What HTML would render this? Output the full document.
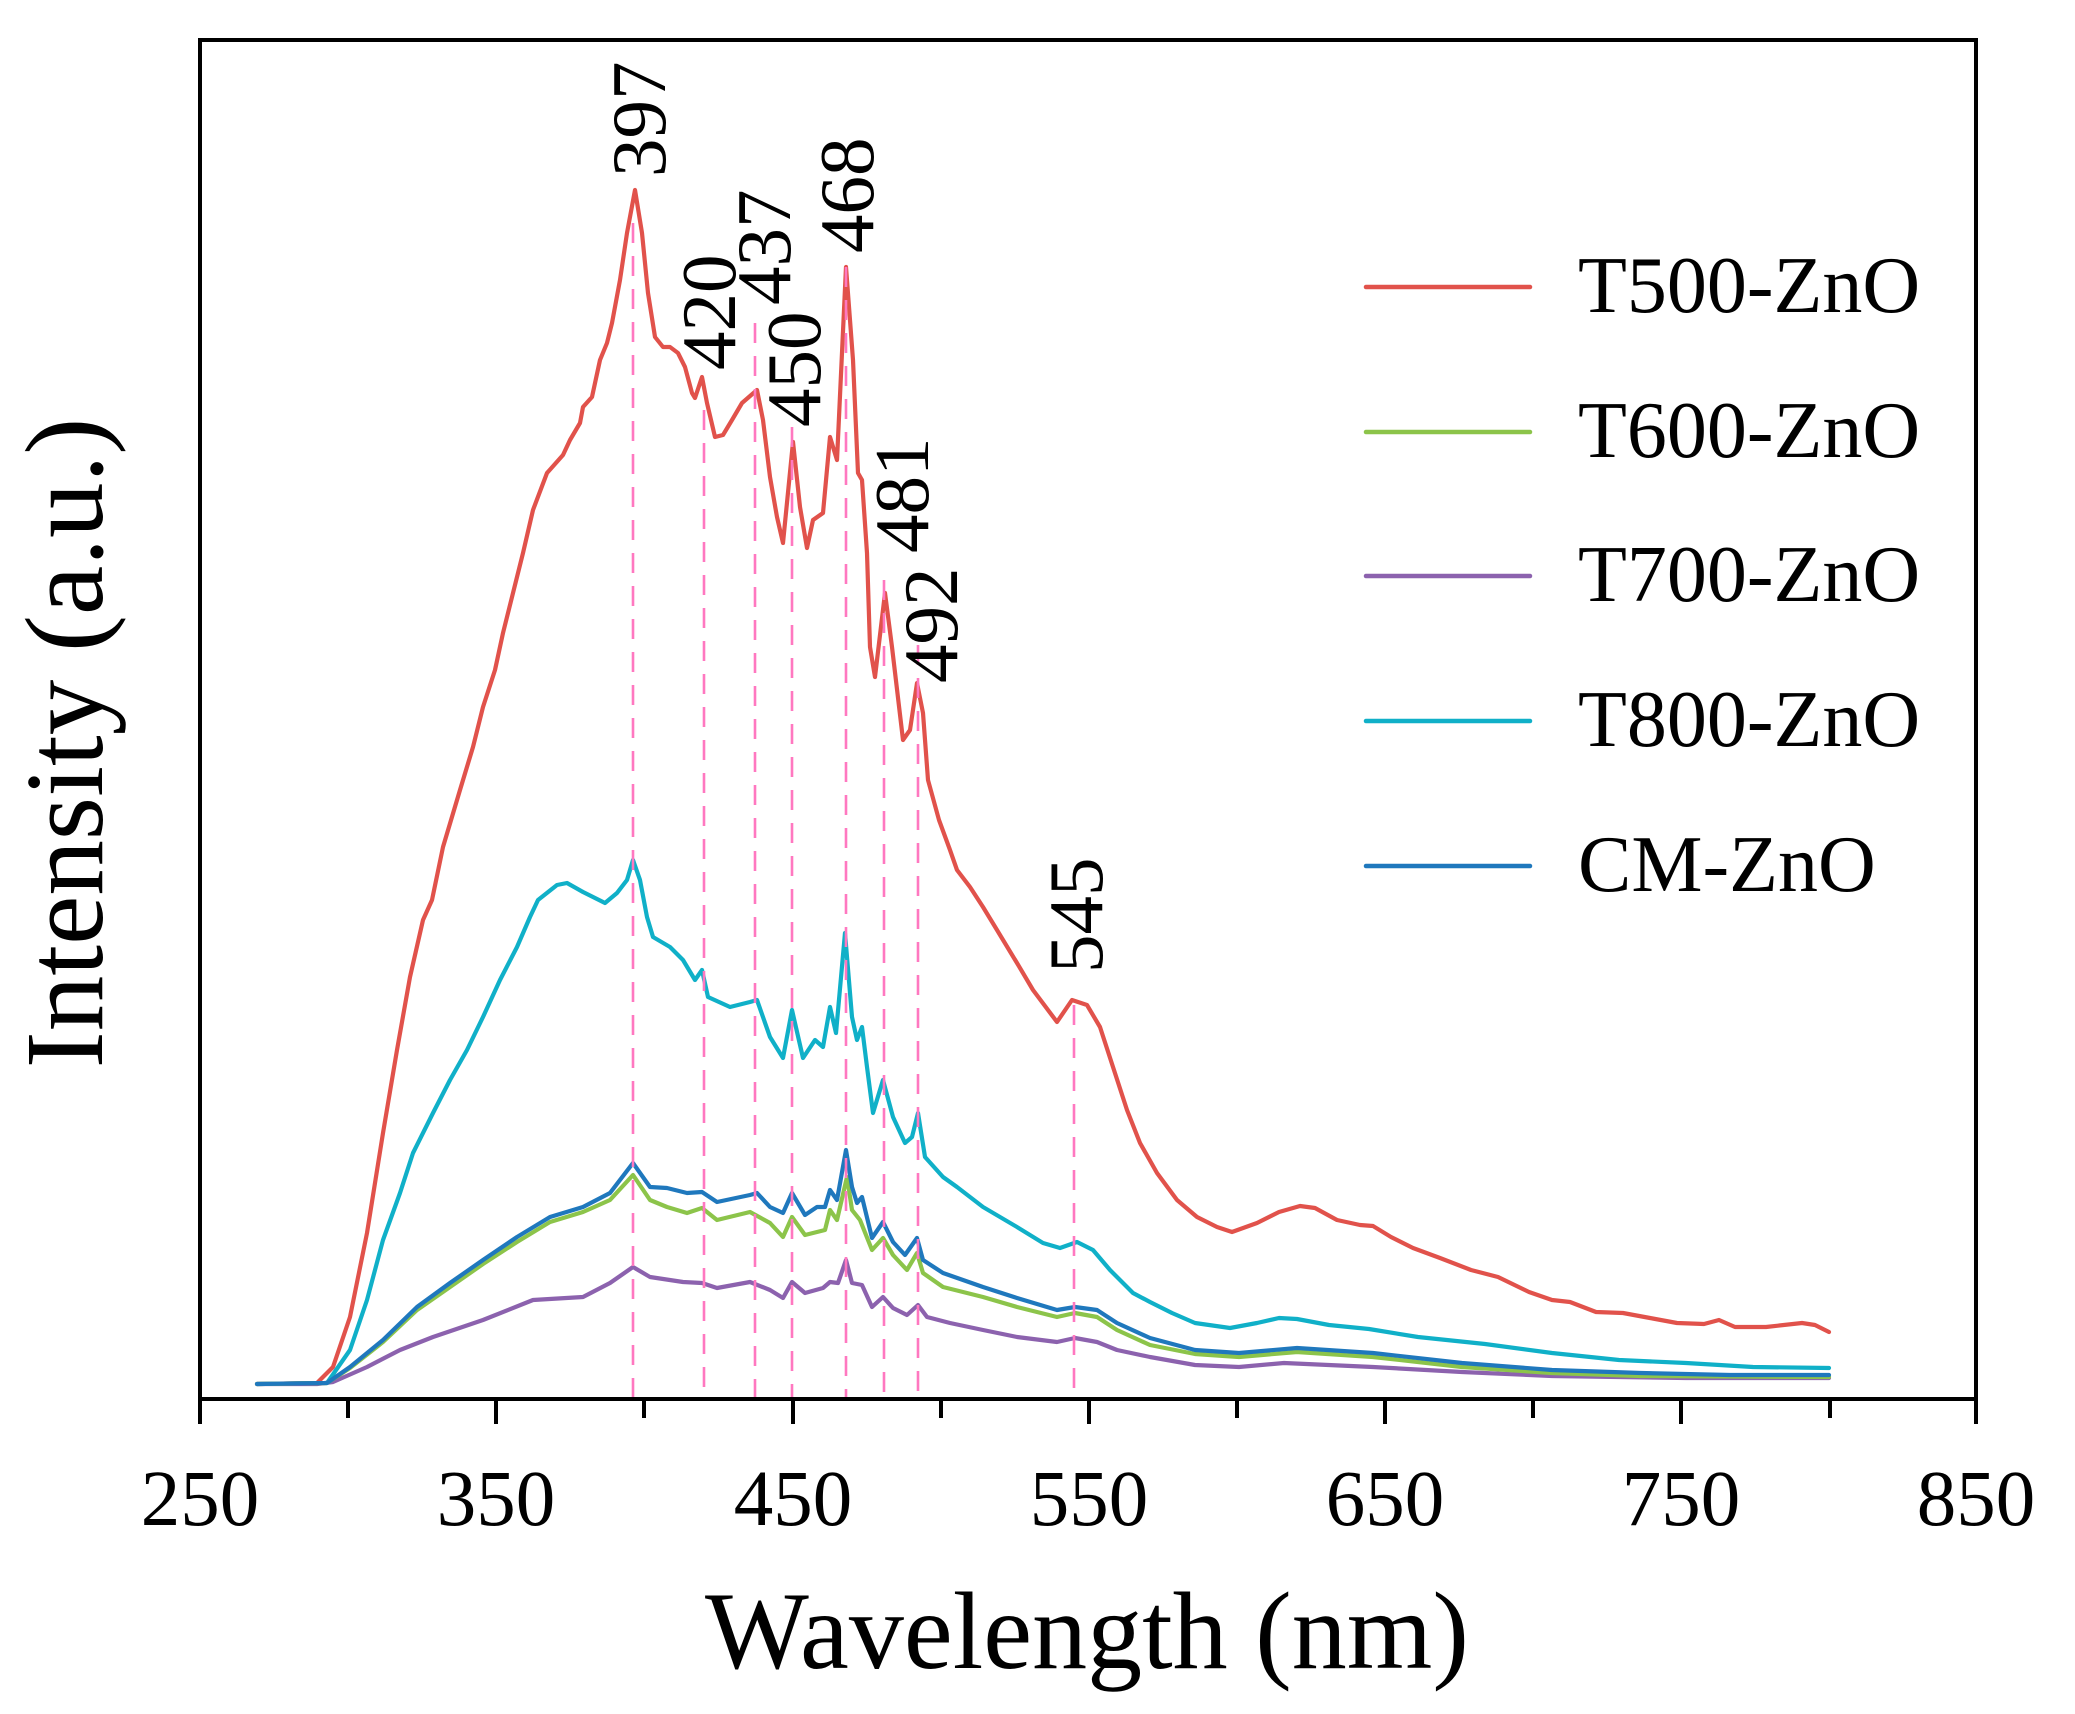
<!DOCTYPE html>
<html>
<head>
<meta charset="utf-8">
<style>
html,body{margin:0;padding:0;background:#fff;}
svg{display:block;}
text{font-family:"Liberation Serif","Times New Roman",serif;fill:#000;}
</style>
</head>
<body>
<svg width="2075" height="1714" viewBox="0 0 2075 1714" xmlns="http://www.w3.org/2000/svg">
<rect width="2075" height="1714" fill="#fff"/>

<g fill="none" stroke-width="4.2" stroke-linejoin="round" stroke-linecap="round">
<!-- T500 red -->
<polyline stroke="#e1524b" points="257,1384 317,1383 333,1367 350,1317 367,1233 383,1133 397,1050 410,977 423,920 432,900 443,847 460,790 473,747 483,707 495,670 503,633 513,593 523,553 533,510 547,473 563,455 570,440 580,423 583,407 592,397 600,360 607,343 612,323 620,280 627,233 635,190 642,233 648,293 655,337 663,347 670,347 678,353 685,367 692,393 695,398 702,377 707,403 715,437 723,435 732,420 742,403 757,390 763,420 770,477 777,517 783,543 793,442 800,507 807,548 813,520 823,513 830,437 837,460 846,267 853,360 858,473 862,480 867,553 870,647 875,677 885,593 892,647 903,740 910,730 917,683 923,713 928,780 939,820 950,850 957,870 970,887 983,907 997,930 1017,963 1033,990 1057,1022 1072,1000 1087,1005 1100,1027 1113,1067 1127,1110 1140,1143 1157,1173 1177,1200 1197,1217 1217,1227 1232,1232 1257,1223 1279,1212 1300,1206 1315,1208 1337,1220 1360,1225 1373,1226 1391,1237 1413,1248 1440,1258 1471,1270 1498,1277 1529,1292 1552,1300 1570,1302 1596,1312 1623,1313 1650,1318 1677,1323 1704,1324 1719,1320 1735,1327 1766,1327 1802,1323 1815,1325 1829,1332"/>
<!-- T800 cyan -->
<polyline stroke="#10b0c8" points="257,1384 327,1383 350,1350 367,1300 383,1240 400,1193 413,1153 433,1113 450,1080 467,1050 483,1017 500,980 517,947 530,917 538,900 557,885 567,883 583,892 605,903 617,893 627,880 633,860 640,880 647,917 653,937 670,947 683,960 695,980 702,970 708,997 730,1007 750,1002 757,1000 770,1037 783,1058 792,1010 803,1058 815,1040 823,1047 830,1007 836,1033 845,933 852,1017 857,1040 862,1027 867,1067 873,1113 883,1080 893,1117 905,1143 912,1137 918,1113 925,1157 943,1177 957,1187 983,1207 1017,1227 1043,1243 1060,1248 1077,1242 1093,1250 1110,1270 1133,1293 1150,1302 1172,1313 1195,1323 1230,1328 1257,1323 1279,1318 1297,1319 1329,1325 1369,1329 1418,1337 1485,1344 1552,1353 1619,1360 1686,1363 1753,1367 1829,1368"/>
<!-- T700 purple -->
<polyline stroke="#8c62ae" points="257,1384 317,1384 333,1382 367,1367 400,1350 433,1337 483,1320 533,1300 583,1297 610,1283 633,1267 650,1277 683,1282 702,1283 717,1288 750,1282 770,1290 783,1298 792,1282 805,1293 823,1288 830,1282 838,1283 846,1260 852,1283 862,1285 872,1307 883,1297 893,1308 907,1315 918,1305 927,1317 950,1323 983,1330 1017,1337 1057,1342 1075,1338 1097,1342 1117,1350 1150,1357 1195,1365 1239,1367 1284,1363 1373,1367 1462,1372 1552,1376 1686,1378 1829,1378"/>
<!-- T600 green -->
<polyline stroke="#8cc44a" points="257,1384 327,1383 350,1368 383,1342 417,1310 450,1287 483,1264 517,1242 550,1222 583,1212 610,1200 633,1175 650,1200 667,1207 687,1213 702,1208 717,1220 750,1212 770,1223 783,1237 792,1217 805,1235 825,1230 830,1210 837,1220 847,1177 852,1210 860,1220 872,1250 883,1238 893,1255 907,1270 917,1253 923,1273 943,1287 983,1297 1017,1307 1057,1317 1075,1313 1097,1317 1117,1330 1150,1345 1195,1354 1239,1357 1297,1352 1373,1357 1462,1367 1552,1373 1641,1376 1829,1377"/>
<!-- CM blue -->
<polyline stroke="#1f78bd" points="257,1384 327,1383 350,1367 383,1340 417,1307 450,1283 483,1260 517,1237 550,1217 583,1207 610,1193 633,1163 650,1187 667,1188 687,1193 702,1192 717,1202 750,1195 757,1193 770,1207 783,1213 792,1193 805,1215 817,1207 825,1207 830,1190 837,1200 846,1150 852,1187 857,1203 862,1197 872,1238 883,1222 893,1242 905,1255 917,1238 923,1260 943,1273 983,1287 1017,1298 1057,1310 1075,1307 1097,1310 1117,1323 1150,1338 1195,1350 1239,1353 1297,1348 1373,1353 1462,1363 1552,1370 1641,1373 1730,1375 1829,1375"/>
</g>

<!-- dashed peak markers -->
<g stroke="#ff78c0" stroke-width="2.6" stroke-dasharray="20 13" fill="none">
<line x1="633" y1="223" x2="633" y2="1398"/>
<line x1="704" y1="410" x2="704" y2="1398"/>
<line x1="755" y1="323" x2="755" y2="1398"/>
<line x1="792" y1="427" x2="792" y2="1398"/>
<line x1="846" y1="267" x2="846" y2="1398"/>
<line x1="884" y1="580" x2="884" y2="1398"/>
<line x1="918" y1="645" x2="918" y2="1398"/>
<line x1="1074" y1="1005" x2="1074" y2="1398"/>
</g>

<!-- axes box -->
<rect x="200" y="40" width="1776" height="1359" fill="none" stroke="#000" stroke-width="4"/>

<!-- ticks -->
<g stroke="#000" stroke-width="4">
<line x1="200" y1="1399" x2="200" y2="1424"/>
<line x1="348" y1="1399" x2="348" y2="1418"/>
<line x1="496" y1="1399" x2="496" y2="1424"/>
<line x1="644" y1="1399" x2="644" y2="1418"/>
<line x1="793" y1="1399" x2="793" y2="1424"/>
<line x1="941" y1="1399" x2="941" y2="1418"/>
<line x1="1089" y1="1399" x2="1089" y2="1424"/>
<line x1="1237" y1="1399" x2="1237" y2="1418"/>
<line x1="1385" y1="1399" x2="1385" y2="1424"/>
<line x1="1533" y1="1399" x2="1533" y2="1418"/>
<line x1="1681" y1="1399" x2="1681" y2="1424"/>
<line x1="1830" y1="1399" x2="1830" y2="1418"/>
<line x1="1976" y1="1399" x2="1976" y2="1424"/>
</g>

<!-- tick labels -->
<g font-size="79" text-anchor="middle">
<text x="200" y="1525">250</text>
<text x="496" y="1525">350</text>
<text x="793" y="1525">450</text>
<text x="1089" y="1525">550</text>
<text x="1385" y="1525">650</text>
<text x="1681" y="1525">750</text>
<text x="1976" y="1525">850</text>
</g>

<!-- axis titles -->
<text x="1087" y="1668" font-size="110" text-anchor="middle">Wavelength (nm)</text>
<text transform="translate(102,743) rotate(-90)" font-size="111" text-anchor="middle">Intensity (a.u.)</text>

<!-- peak labels -->
<g font-size="77">
<text transform="translate(665,177) rotate(-90)">397</text>
<text transform="translate(735,370) rotate(-90)">420</text>
<text transform="translate(790,305) rotate(-90)">437</text>
<text transform="translate(820,427) rotate(-90)">450</text>
<text transform="translate(873,253) rotate(-90)">468</text>
<text transform="translate(928,553) rotate(-90)">481</text>
<text transform="translate(957,683) rotate(-90)">492</text>
<text transform="translate(1102,973) rotate(-90)">545</text>
</g>

<!-- legend -->
<g stroke-width="4.5" stroke-linecap="round">
<line x1="1366" y1="287" x2="1530" y2="287" stroke="#e1524b"/>
<line x1="1366" y1="432" x2="1530" y2="432" stroke="#8cc44a"/>
<line x1="1366" y1="576" x2="1530" y2="576" stroke="#8c62ae"/>
<line x1="1366" y1="721" x2="1530" y2="721" stroke="#10b0c8"/>
<line x1="1366" y1="866" x2="1530" y2="866" stroke="#1f78bd"/>
</g>
<g font-size="80">
<text x="1578" y="312">T500-ZnO</text>
<text x="1578" y="457">T600-ZnO</text>
<text x="1578" y="601">T700-ZnO</text>
<text x="1578" y="746">T800-ZnO</text>
<text x="1578" y="891">CM-ZnO</text>
</g>
</svg>
</body>
</html>
